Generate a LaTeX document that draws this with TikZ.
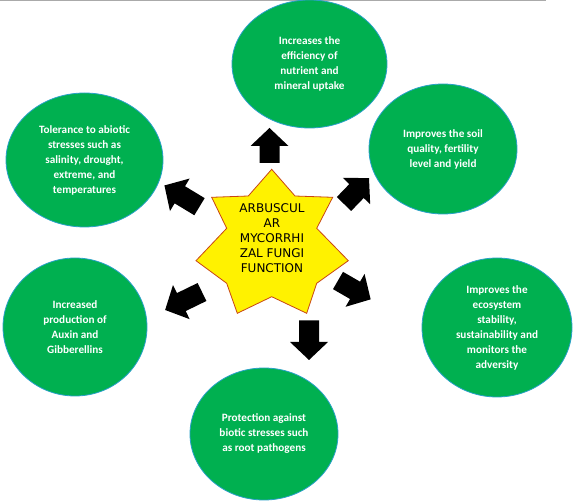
\documentclass[tikz,border=0pt]{standalone}
\usepackage{fontspec}
\usetikzlibrary{shapes.geometric}
\newfontfamily\calfont{Carlito}
\newfontfamily\dvfont{DejaVu Sans}
\definecolor{efgreen}{RGB}{0,176,80}
\definecolor{efedge}{RGB}{40,160,200}
\definecolor{staredge}{RGB}{200,70,20}
\definecolor{topline}{RGB}{170,170,170}
\tikzset{
  bubble/.style={ellipse, fill=efgreen, draw=efedge, line width=0.8pt, inner sep=0pt,
    text=white, align=center, font=\calfont\bfseries\fontsize{11.2}{15}\selectfont},
  startext/.style={align=center, inner sep=0pt, font=\dvfont\fontsize{12}{15}\selectfont},
  starshape/.style={fill=yellow, draw=staredge, line width=0.8pt, line join=miter},
  blockarrow/.style={fill=black}
}
\newcommand\blockarr[3]{%
  \begin{scope}[shift={(#1)}, rotate=#2]
    \fill[blockarrow] (0,-10) -- ({#3-18},-10) -- ({#3-18},-19) -- (#3,0) -- ({#3-18},19) -- ({#3-18},10) -- (0,10) -- cycle;
  \end{scope}}
\begin{document}
\begin{tikzpicture}[x=1pt,y=1pt]
\useasboundingbox (0,0) rectangle (574,504);
\fill[white] (0,0) rectangle (574,504);
\draw[topline, line width=1pt] (0,503.5) -- (546,503.5);

% bubbles
\node[bubble, minimum width=155, minimum height=128] (up) at (309.5,440) {Increases the\\efficiency of\\nutrient and\\mineral uptake};
\node[bubble, minimum width=148, minimum height=130] (soil) at (443,355) {Improves the soil\\quality, fertility\\level and yield};
\node[bubble, minimum width=150, minimum height=139] (eco) at (497,176.5) {Improves the\\ecosystem\\stability,\\sustainability and\\monitors the\\adversity};
\node[bubble, minimum width=148, minimum height=132] (prot) at (264,70) {Protection against\\biotic stresses such\\as root pathogens};
\node[bubble, minimum width=144, minimum height=138] (aux) at (75,177) {Increased\\production of\\Auxin and\\Gibberellins};
\node[bubble, minimum width=157, minimum height=134] (tol) at (84.5,344) {Tolerance to abiotic\\stresses such as\\salinity, drought,\\extreme, and\\temperatures};

% star
\draw[starshape] (271.7,334.7) -- (295,308) -- (332.7,306.7) -- (316.7,275.7) -- (348.3,243.3)
  -- (316.7,220.7) -- (306.7,190.7) -- (271.7,207.3) -- (237.3,190.7) -- (226.7,220.7)
  -- (196,243.3) -- (226.7,275.7) -- (211.7,306.7) -- (248.3,308) -- cycle;
\node[startext] (center) at (272,266) {ARBUSCUL\\AR\\MYCORRHI\\ZAL FUNGI\\FUNCTION};

% block arrows
\blockarr{269.5,341}{90}{35}
\blockarr{309,183.5}{270}{39.5}
\blockarr{199.5,297.3}{148.8}{41}
\blockarr{344,300}{46}{36}
\blockarr{338,223.5}{-30}{37.7}
\blockarr{202,212}{206}{41}
\end{tikzpicture}
\end{document}
